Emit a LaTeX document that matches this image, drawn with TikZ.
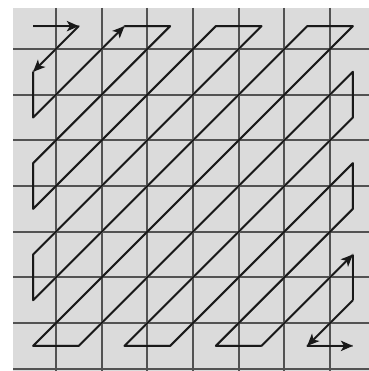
\documentclass[tikz,border=0pt]{standalone}
\usetikzlibrary{arrows.meta}

\definecolor{tilegray}{gray}{0.86}
\definecolor{gridgray}{gray}{0.32}
\definecolor{shadegray}{gray}{0.55}

\newcommand{\var}{
\def\nc{7}        % last cell index
\def\dsh{0.05}    % shadow offset of the scan line
}
\newcommand{\scl}{1}

\tikzset{
  gridline/.style={draw=gridgray, line width=1.4pt},
  scanline/.style={draw=black!90, line width=1.15pt, line join=round},
  scanshade/.style={draw=shadegray, line width=1.3pt, line join=round},
  scanarrow/.style={-{Stealth[length=7.5pt,width=6.5pt,inset=2pt]}},
}

\begin{document}
\begin{tikzpicture}[scale=\scl]
  \var
  \useasboundingbox (-0.225,0.072) rectangle (7.85,-8.05);
%
  \fill[tilegray] (0.06,-0.10) rectangle (7.85,-8.05);
  \foreach \k in {1,...,\nc}
    \draw[gridline] (\k,-0.10) -- (\k,-8.05);
  \foreach \k in {1,...,8}
    \draw[gridline] (0.06,-\k) -- (7.85,-\k);
%
  % cell centres c<col><row>
  \foreach \i in {0,...,\nc}
    \foreach \j in {0,...,\nc}
      \coordinate (c\i\j) at ({\i+0.5},{-\j-0.5});
%
  % shadow of the scan line
  \begin{scope}[shift={(\dsh,-\dsh)}]
    \draw[scanshade] (c00) -- (c10) -- (c01) -- (c02) -- (c20) -- (c30)
      -- (c03) -- (c04) -- (c40) -- (c50) -- (c05) -- (c06) -- (c60)
      -- (c70) -- (c07) -- (c17) -- (c71) -- (c72) -- (c27) -- (c37)
      -- (c73) -- (c74) -- (c47) -- (c57) -- (c75) -- (c76) -- (c67) -- (c77);
  \end{scope}
%
  \draw[scanline,scanarrow] (c00) -- (c10);
  \draw[scanline,scanarrow] (c10) -- (c01);
  \draw[scanline,scanarrow] (c01) -- (c02) -- (c20);
  \draw[scanline] (c20) -- (c30) -- (c03) -- (c04) -- (c40) -- (c50)
    -- (c05) -- (c06) -- (c60) -- (c70) -- (c07) -- (c17) -- (c71)
    -- (c72) -- (c27) -- (c37) -- (c73) -- (c74) -- (c47) -- (c57);
  \draw[scanline,scanarrow] (c57) -- (c75);
  \draw[scanline] (c75) -- (c76);
  \draw[scanline,scanarrow] (c76) -- (c67);
  \draw[scanline,scanarrow] (c67) -- (c77);
\end{tikzpicture}
\end{document}
